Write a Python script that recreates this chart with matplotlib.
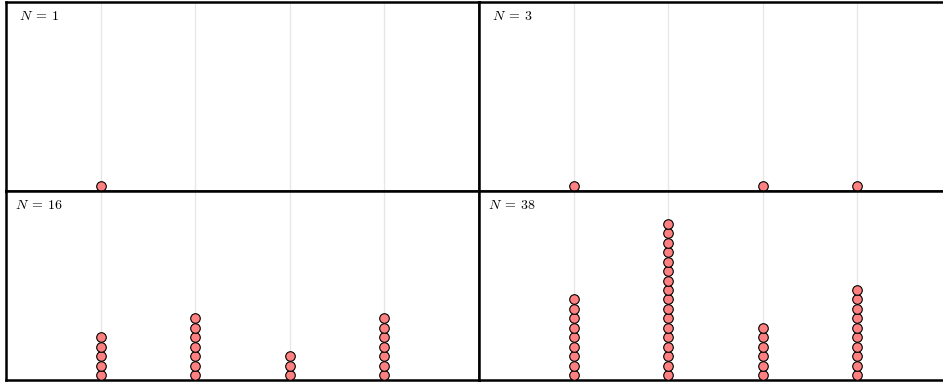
import numpy as np
import matplotlib
matplotlib.use('Agg')
import matplotlib.pyplot as plt

plt.rcParams['mathtext.fontset'] = 'cm'

# Sample sizes and how many draws landed on each of the four outcomes
sample_sizes = [1, 3, 16, 38]
categories = [1, 2, 3, 4]
counts_n1 = [1, 0, 0, 0]
counts_n3 = [1, 0, 1, 1]
counts_n16 = [5, 7, 3, 7]
counts_n38 = [9, 17, 6, 10]
all_counts = [counts_n1, counts_n3, counts_n16, counts_n38]

fig = plt.figure(figsize=(9.43, 3.83), dpi=100)

# panels laid out by hand; the right column runs a little past the figure edge
w = 473 / 943
h_top = 188.5 / 383
h_bot = 189.5 / 383
boxes = [
    (6 / 943, 1 - 190.5 / 383, w, h_top),
    (479 / 943, 1 - 190.5 / 383, w, h_top),
    (6 / 943, 3 / 383, w, h_bot),
    (479 / 943, 3 / 383, w, h_bot),
]

for box, n, counts in zip(boxes, sample_sizes, all_counts):
    ax = fig.add_axes(box)
    ax.set_xlim(0, 5)
    ax.set_ylim(0, 20)
    for c in categories:
        ax.axvline(c, color='#e6e6e6', lw=0.9, zorder=0)
    for c, k in zip(categories, counts):
        if k == 0:
            continue
        ys = np.arange(k) + 0.5
        ax.plot([c] * k, ys, 'o', ms=6.9, mfc='#ff8080', mec='black',
                mew=0.8, clip_on=False, zorder=3)
    ax.set_xticks([])
    ax.set_yticks([])
    for s in ax.spines.values():
        s.set_linewidth(1.8)
    ax.text(33 / 473, 1 - 14 / 189, f'$N\\:=\\:{n}$', transform=ax.transAxes,
            fontsize=10, ha='center', va='center')

fig.savefig('out.png', dpi=100)
